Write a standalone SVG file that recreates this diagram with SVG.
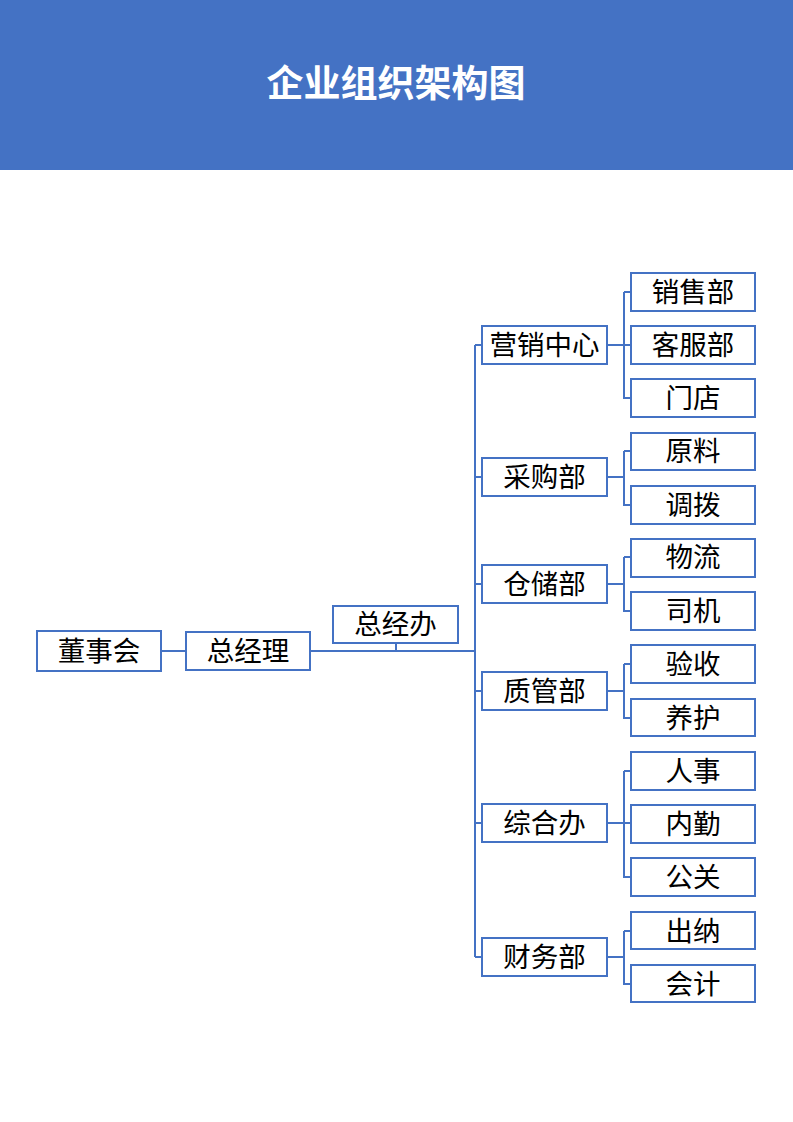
<svg xmlns="http://www.w3.org/2000/svg" width="793" height="1122" viewBox="0 0 793 1122">
<style>
.b{fill:#fff;stroke:#4472C4;stroke-width:2}
.t{font-family:"Noto Sans CJK SC","Liberation Sans",sans-serif;font-size:27.5px;font-weight:normal;fill:#000;text-anchor:middle}
.c{fill:none;stroke:#4472C4;stroke-width:2}
</style>
<rect x="0" y="0" width="793" height="170" fill="#4472C4"/>
<text x="396" y="97" style="font-family:'Noto Sans CJK SC','Liberation Sans',sans-serif;font-size:37px;font-weight:bold;fill:#fff;text-anchor:middle">企业组织架构图</text>
<g id="connectors">
<path class="c" d="M161 651H186M310 651H475M396 643V651M475 345V957M475 345H482M475 477H482M475 584H482M475 691H482M475 823H482M475 957H482"/>
<path class="c" d="M607 345H631M624 292V398H631M624 292H631"/>
<path class="c" d="M607 477H624M624 451V505H631M624 451H631"/>
<path class="c" d="M607 584H624M624 557V611H631M624 557H631"/>
<path class="c" d="M607 691H624M624 664V718H631M624 664H631"/>
<path class="c" d="M607 823H631M624 771V877H631M624 771H631"/>
<path class="c" d="M607 957H624M624 931V984H631M624 931H631"/>
</g>
<g id="n-dongshihui"><rect class="b" x="37" y="631" width="124" height="40"/><text class="t" x="99" y="661">董事会</text></g>
<g id="n-zongjingli"><rect class="b" x="186" y="632" width="124" height="38"/><text class="t" x="248" y="661">总经理</text></g>
<g id="n-zongjingban"><rect class="b" x="333" y="606" width="125" height="37"/><text class="t" x="395.5" y="634">总经办</text></g>
<g id="n-yingxiao"><rect class="b" x="482" y="326" width="125" height="38"/><text class="t" x="544.5" y="355">营销中心</text></g>
<g id="n-caigou"><rect class="b" x="482" y="458" width="125" height="38"/><text class="t" x="544.5" y="487">采购部</text></g>
<g id="n-cangchu"><rect class="b" x="482" y="565" width="125" height="38"/><text class="t" x="544.5" y="594">仓储部</text></g>
<g id="n-zhiguan"><rect class="b" x="482" y="672" width="125" height="38"/><text class="t" x="544.5" y="701">质管部</text></g>
<g id="n-zonghe"><rect class="b" x="482" y="804" width="125" height="38"/><text class="t" x="544.5" y="833">综合办</text></g>
<g id="n-caiwu"><rect class="b" x="482" y="938" width="125" height="38"/><text class="t" x="544.5" y="967">财务部</text></g>
<g id="n-xiaoshou"><rect class="b" x="631" y="273" width="124" height="38"/><text class="t" x="693" y="302">销售部</text></g>
<g id="n-kefu"><rect class="b" x="631" y="326" width="124" height="38"/><text class="t" x="693" y="355">客服部</text></g>
<g id="n-mendian"><rect class="b" x="631" y="379" width="124" height="38"/><text class="t" x="693" y="408">门店</text></g>
<g id="n-yuanliao"><rect class="b" x="631" y="433" width="124" height="37"/><text class="t" x="693" y="461">原料</text></g>
<g id="n-diaobo"><rect class="b" x="631" y="486" width="124" height="38"/><text class="t" x="693" y="515">调拨</text></g>
<g id="n-wuliu"><rect class="b" x="631" y="539" width="124" height="38"/><text class="t" x="693" y="567">物流</text></g>
<g id="n-siji"><rect class="b" x="631" y="592" width="124" height="38"/><text class="t" x="693" y="621">司机</text></g>
<g id="n-yanshou"><rect class="b" x="631" y="645" width="124" height="38"/><text class="t" x="693" y="674">验收</text></g>
<g id="n-yanghu"><rect class="b" x="631" y="699" width="124" height="37"/><text class="t" x="693" y="728">养护</text></g>
<g id="n-renshi"><rect class="b" x="631" y="752" width="124" height="38"/><text class="t" x="693" y="781">人事</text></g>
<g id="n-neiqin"><rect class="b" x="631" y="805" width="124" height="38"/><text class="t" x="693" y="834">内勤</text></g>
<g id="n-gongguan"><rect class="b" x="631" y="858" width="124" height="38"/><text class="t" x="693" y="887">公关</text></g>
<g id="n-chuna"><rect class="b" x="631" y="912" width="124" height="37"/><text class="t" x="693" y="941">出纳</text></g>
<g id="n-kuaiji"><rect class="b" x="631" y="965" width="124" height="37"/><text class="t" x="693" y="994">会计</text></g>
</svg>
